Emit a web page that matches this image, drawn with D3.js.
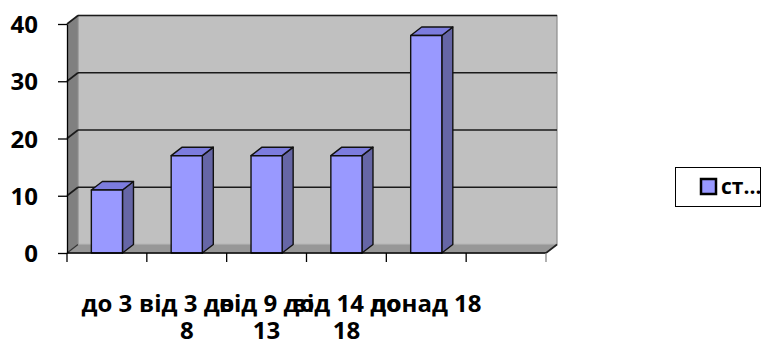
<!DOCTYPE html>
<html>
<head>
<meta charset="utf-8">
<script src="https://cdn.jsdelivr.net/npm/d3@7"></script>
<style>
  html, body { margin: 0; padding: 0; background: #fff; }
  svg { display: block; }
  text { font-family: "Open Sans", "Liberation Sans", Arial, sans-serif; font-weight: 700; fill: #000; }
</style>
</head>
<body>
<svg id="chart" width="762" height="345"></svg>
<script>
// ---- data ----
const categories = ["до 3", "від 3 до 8", "від 9 до 13", "від 14 до 18", "понад 18", ""];
const values = [11, 17, 17, 17, 38, null];
const yTicks = [0, 10, 20, 30, 40];
const seriesName = "ст...";

// ---- layout ----
const svg = d3.select("#chart");
const x0 = 67, x1 = 546, yBottom = 253, yTop = 24;
const dx = 11, dy = -8.5; // 3D depth offset

const x = d3.scaleBand().domain(categories.map((c, i) => i)).range([x0, x1]).padding(0);
const y = d3.scaleLinear().domain([0, 40]).range([yBottom, yTop]);

const pts = a => a.map(p => p.join(",")).join(" ");

// left side wall
svg.append("polygon")
  .attr("points", pts([[x0, y(40)], [x0 + dx, y(40) + dy], [x0 + dx, y(0) + dy], [x0, y(0)]]))
  .attr("fill", "#808080");
// back wall
svg.append("rect")
  .attr("x", x0 + dx).attr("y", y(40) + dy)
  .attr("width", x1 - x0).attr("height", y(0) - y(40))
  .attr("fill", "#c0c0c0").attr("stroke", "#8c8c8c").attr("stroke-width", 1.2);
// floor
svg.append("polygon")
  .attr("points", pts([[x0, y(0)], [x0 + dx, y(0) + dy], [x1 + dx, y(0) + dy], [x1, y(0)]]))
  .attr("fill", "#979797").attr("stroke", "#a8a8a8").attr("stroke-width", 1);

// gridlines (back + side)
yTicks.filter(t => t > 0).forEach(t => {
  svg.append("line")
    .attr("x1", x0 + dx).attr("x2", x1 + dx)
    .attr("y1", y(t) + dy).attr("y2", y(t) + dy)
    .attr("stroke", "#1a1a1a").attr("stroke-width", 1.6);
  svg.append("line")
    .attr("x1", x0).attr("x2", x0 + dx)
    .attr("y1", y(t)).attr("y2", y(t) + dy)
    .attr("stroke", "#1a1a1a").attr("stroke-width", 1.6);
});
// floor edge lines
svg.append("line")
  .attr("x1", x0).attr("x2", x0 + dx).attr("y1", y(0)).attr("y2", y(0) + dy)
  .attr("stroke", "#333").attr("stroke-width", 1.2);
svg.append("line")
  .attr("x1", x1).attr("x2", x1 + dx).attr("y1", y(0)).attr("y2", y(0) + dy)
  .attr("stroke", "#222").attr("stroke-width", 1.6);

// bars
const bw = x.bandwidth() * 0.39;
const bars = svg.append("g");
categories.forEach((c, i) => {
  const v = values[i];
  if (v == null) return;
  const cx = x(i) + x.bandwidth() / 2;
  const L = cx - bw / 2, R = cx + bw / 2, T = y(v), B = y(0);
  const g = bars.append("g").attr("stroke", "#111").attr("stroke-width", 1.4).attr("stroke-linejoin", "round");
  g.append("polygon").attr("points", pts([[R, T], [R + dx, T + dy], [R + dx, B + dy], [R, B]])).attr("fill", "#6666a6");
  g.append("polygon").attr("points", pts([[L, T], [L + dx, T + dy], [R + dx, T + dy], [R, T]])).attr("fill", "#7c7cde");
  g.append("rect").attr("x", L).attr("y", T).attr("width", bw).attr("height", B - T).attr("fill", "#9999ff");
});

// axes
const yAxis = svg.append("g").attr("transform", `translate(${x0},0)`)
  .call(d3.axisLeft(y).tickValues(yTicks).tickSize(9).tickPadding(20).tickSizeOuter(0));
yAxis.select(".domain").attr("stroke", "#000").attr("stroke-width", 1.3);
yAxis.selectAll(".tick line").attr("stroke", "#000").attr("stroke-width", 1.3);
yAxis.selectAll(".tick text").attr("font-size", 24).attr("font-family", null)
  .attr("fill", "#000").attr("dy", "0.36em");

const xTickPos = d3.range(categories.length + 1).map(i => x0 + i * x.step());
const xAxisG = svg.append("g");
xAxisG.append("line").attr("x1", x0).attr("x2", x1).attr("y1", yBottom).attr("y2", yBottom)
  .attr("stroke", "#000").attr("stroke-width", 1.3);
xAxisG.selectAll("line.tk").data(xTickPos).join("line").attr("class", "tk")
  .attr("x1", d => d).attr("x2", d => d).attr("y1", yBottom).attr("y2", yBottom + 9)
  .attr("stroke", (d, i) => i === xTickPos.length - 1 ? "#888" : "#000").attr("stroke-width", 1.3);

// category labels (wrapped)
categories.forEach((c, i) => {
  if (!c) return;
  const words = c.split(" ");
  const lines = words.length > 3 ? [words.slice(0, -1).join(" "), words[words.length - 1]] : [c];
  const t = xAxisG.append("text")
    .attr("x", x(i) + x.bandwidth() / 2).attr("y", 312)
    .attr("text-anchor", "middle").attr("font-size", 24);
  lines.forEach((ln, k) => {
    t.append("tspan").attr("x", x(i) + x.bandwidth() / 2).attr("dy", k === 0 ? 0 : 27).text(ln);
  });
});

// legend
const lg = svg.append("g");
lg.append("rect").attr("x", 675.5).attr("y", 167.5).attr("width", 85).attr("height", 39)
  .attr("fill", "#fff").attr("stroke", "#000").attr("stroke-width", 1);
lg.append("rect").attr("x", 701).attr("y", 179).attr("width", 15).attr("height", 15)
  .attr("fill", "#9999ff").attr("stroke", "#000").attr("stroke-width", 2.5);
lg.append("text").attr("x", 721).attr("y", 194).attr("font-size", 21).text(seriesName);
</script>
</body>
</html>
